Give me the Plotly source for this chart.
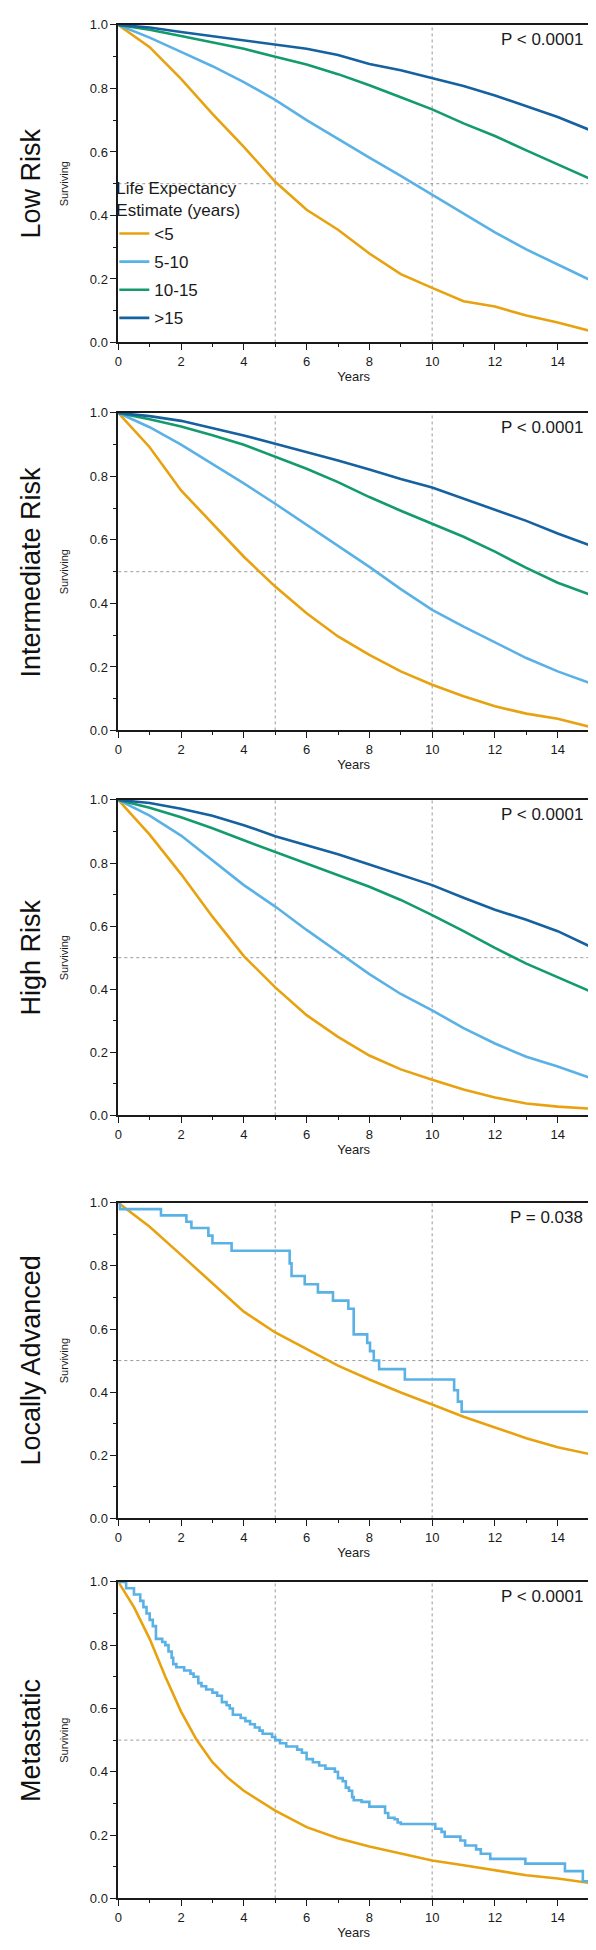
import plotly.graph_objects as go

W, H = 596, 1950

# ---------------- data ----------------
years = list(range(0, 16))
series_names = ["<5", "5-10", "10-15", ">15"]
colors = ["#E8A20F", "#5AB1E6", "#139B6C", "#16619F"]

low_lt5 = [1.0, 0.93, 0.83, 0.72, 0.616, 0.506, 0.418, 0.355, 0.28, 0.215, 0.172, 0.13, 0.113, 0.085, 0.063, 0.037]
low_5_10 = [1.0, 0.96, 0.915, 0.87, 0.82, 0.764, 0.70, 0.64, 0.582, 0.525, 0.465, 0.405, 0.347, 0.293, 0.245, 0.198]
low_10_15 = [1.0, 0.985, 0.965, 0.945, 0.925, 0.90, 0.875, 0.845, 0.81, 0.772, 0.734, 0.69, 0.65, 0.605, 0.56, 0.517]
low_gt15 = [1.0, 0.992, 0.978, 0.965, 0.952, 0.94, 0.925, 0.905, 0.877, 0.857, 0.833, 0.808, 0.778, 0.745, 0.71, 0.67]

int_lt5 = [1.0, 0.892, 0.756, 0.652, 0.547, 0.453, 0.369, 0.296, 0.238, 0.186, 0.144, 0.108, 0.076, 0.053, 0.037, 0.012]
int_5_10 = [1.0, 0.955, 0.90, 0.84, 0.778, 0.714, 0.648, 0.58, 0.515, 0.445, 0.38, 0.327, 0.277, 0.228, 0.186, 0.15]
int_10_15 = [1.0, 0.98, 0.957, 0.93, 0.9, 0.861, 0.824, 0.782, 0.735, 0.692, 0.652, 0.61, 0.563, 0.512, 0.465, 0.429]
int_gt15 = [1.0, 0.99, 0.975, 0.953, 0.929, 0.903, 0.877, 0.85, 0.822, 0.792, 0.765, 0.73, 0.693, 0.66, 0.62, 0.584]

high_lt5 = [1.0, 0.89, 0.765, 0.63, 0.505, 0.406, 0.318, 0.249, 0.19, 0.146, 0.113, 0.082, 0.057, 0.038, 0.028, 0.022]
high_5_10 = [1.0, 0.95, 0.887, 0.809, 0.73, 0.662, 0.588, 0.518, 0.448, 0.385, 0.333, 0.277, 0.228, 0.186, 0.155, 0.12]
high_10_15 = [1.0, 0.975, 0.945, 0.91, 0.872, 0.835, 0.798, 0.762, 0.725, 0.683, 0.635, 0.584, 0.531, 0.481, 0.437, 0.395]
high_gt15 = [1.0, 0.99, 0.972, 0.95, 0.92, 0.885, 0.856, 0.828, 0.795, 0.762, 0.73, 0.69, 0.652, 0.62, 0.584, 0.537]

la_lt5 = [1.0, 0.924, 0.835, 0.746, 0.655, 0.589, 0.536, 0.484, 0.44, 0.399, 0.361, 0.322, 0.288, 0.254, 0.225, 0.204]
la_step_t = [0.0, 0.05, 1.36, 2.17, 2.33, 2.87, 3.0, 3.61, 5.46, 5.52, 5.94, 6.36, 6.84, 7.33, 7.5, 7.93, 8.02, 8.14, 8.31, 9.13, 10.7, 10.82, 10.94, 15.0]
la_step_s = [1.0, 0.98, 0.96, 0.94, 0.92, 0.896, 0.872, 0.848, 0.808, 0.768, 0.742, 0.716, 0.69, 0.664, 0.583, 0.556, 0.53, 0.5, 0.473, 0.44, 0.406, 0.37, 0.338, 0.338]

met_t = [0, 0.5, 1, 1.5, 2, 2.5, 3, 3.5, 4, 5, 6, 7, 8, 9, 10, 11, 12, 13, 14, 15]
met_lt5 = [1.0, 0.92, 0.82, 0.70, 0.59, 0.50, 0.43, 0.38, 0.34, 0.277, 0.225, 0.19, 0.164, 0.143, 0.12, 0.105, 0.089, 0.073, 0.063, 0.049]
met_step_t = [0.0, 0.25, 0.5, 0.7, 0.8, 0.9, 1.0, 1.1, 1.2, 1.4, 1.5, 1.6, 1.7, 1.75, 1.85, 2.1, 2.3, 2.4, 2.55, 2.65,
              2.8, 3.0, 3.15, 3.3, 3.45, 3.55, 3.65, 3.9, 4.05, 4.2, 4.35, 4.5, 4.6, 4.9, 5.0, 5.15, 5.35, 5.7, 5.85,
              6.0, 6.2, 6.4, 6.6, 6.9, 7.0, 7.15, 7.25, 7.35, 7.45, 7.5, 7.75, 8.0, 8.5, 8.6, 8.8, 8.9, 9.0,
              10.1, 10.3, 10.4, 10.9, 11.05, 11.4, 11.55, 11.85, 12.97, 14.23, 14.8, 15.0]
met_step_s = [1.0, 0.98, 0.96, 0.94, 0.92, 0.90, 0.88, 0.86, 0.82, 0.81, 0.80, 0.78, 0.76, 0.74, 0.73, 0.72, 0.71, 0.70, 0.68, 0.67,
              0.66, 0.65, 0.64, 0.62, 0.61, 0.60, 0.58, 0.57, 0.56, 0.55, 0.54, 0.53, 0.52, 0.51, 0.50, 0.49, 0.48, 0.47, 0.46,
              0.44, 0.43, 0.42, 0.41, 0.40, 0.38, 0.37, 0.35, 0.34, 0.32, 0.31, 0.305, 0.29, 0.27, 0.255, 0.25, 0.24, 0.235,
              0.22, 0.21, 0.195, 0.183, 0.167, 0.155, 0.141, 0.125, 0.11, 0.086, 0.054, 0.054]

panel_titles = ["Low Risk", "Intermediate Risk", "High Risk", "Locally Advanced", "Metastatic"]
p_values = ["P < 0.0001", "P < 0.0001", "P < 0.0001", "P = 0.038", "P < 0.0001"]
x_ticks = [0, 2, 4, 6, 8, 10, 12, 14]
y_ticks = [0.0, 0.2, 0.4, 0.6, 0.8, 1.0]
y_ticktext = ["0.0", "0.2", "0.4", "0.6", "0.8", "1.0"]

# ---------------- layout geometry (pixels) ----------------
panel_tops = [10, 401, 791, 1197, 1579]
panel_bots = [330, 721, 1109, 1515, 1898]
x_left, x_right = 107, 581

FONT = "Liberation Sans, Arial, Helvetica, sans-serif"

fig = go.Figure()

def add_line(i, x, y, color, name, shape="linear", legend=False):
    ax = "" if i == 0 else str(i + 1)
    fig.add_trace(go.Scatter(
        x=x, y=y, mode="lines", name=name,
        line=dict(color=color, width=2.6, shape=shape),
        xaxis="x" + ax, yaxis="y" + ax,
        showlegend=legend, legendgroup=name if legend else None,
    ))

groups = [
    [low_lt5, low_5_10, low_10_15, low_gt15],
    [int_lt5, int_5_10, int_10_15, int_gt15],
    [high_lt5, high_5_10, high_10_15, high_gt15],
]
for i, grp in enumerate(groups):
    for j, vals in enumerate(grp):
        add_line(i, years, vals, colors[j], series_names[j], legend=(i == 0))

add_line(3, years, la_lt5, colors[0], "<5")
add_line(3, la_step_t, la_step_s, colors[1], "5-10", shape="hv")
add_line(4, met_t, met_lt5, colors[0], "<5")
add_line(4, met_step_t, met_step_s, colors[1], "5-10", shape="hv")

layout = dict(
    width=W, height=H,
    margin=dict(l=0, r=0, t=0, b=0),
    paper_bgcolor="white", plot_bgcolor="white",
    font=dict(family=FONT, color="#1a1a1a", size=13),
    showlegend=True,
    legend=dict(
        x=(x_left - 4) / W, y=1 - 158 / H, xanchor="left", yanchor="top",
        bgcolor="rgba(0,0,0,0)",
        font=dict(size=17, family=FONT, color="#1a1a1a"),
        title=dict(text="Life Expectancy<br>Estimate (years)", font=dict(size=17, family=FONT, color="#1a1a1a")),
        tracegroupgap=3, itemwidth=30,
    ),
)

shapes = []
annotations = []
for i in range(5):
    ax = "" if i == 0 else str(i + 1)
    dom_y = [1 - panel_bots[i] / H, 1 - panel_tops[i] / H]
    layout["xaxis" + ax] = dict(
        domain=[x_left / W, x_right / W], anchor="y" + ax, range=[0, 15],
        showline=True, linecolor="#1a1a1a", linewidth=1.6, mirror=True,
        ticks="outside", ticklen=6, tickwidth=1.4, tickcolor="#1a1a1a",
        tickvals=x_ticks, ticktext=[str(v) for v in x_ticks],
        tickfont=dict(size=13, family=FONT, color="#1a1a1a"),
        minor=dict(ticks="outside", ticklen=3, tickwidth=1.2, tickcolor="#1a1a1a", dtick=1, tick0=0, showgrid=False),
        showgrid=False, zeroline=False, fixedrange=True,
        title=dict(text="Years", font=dict(size=13, family=FONT, color="#1a1a1a"), standoff=4),
    )
    layout["yaxis" + ax] = dict(
        domain=dom_y, anchor="x" + ax, range=[0, 1],
        showline=True, linecolor="#1a1a1a", linewidth=1.6, mirror=True,
        ticks="outside", ticklen=6, tickwidth=1.4, tickcolor="#1a1a1a",
        tickvals=y_ticks, ticktext=y_ticktext,
        tickfont=dict(size=13, family=FONT, color="#1a1a1a"),
        minor=dict(ticks="outside", ticklen=3, tickwidth=1.2, tickcolor="#1a1a1a", dtick=0.1, tick0=0, showgrid=False),
        showgrid=False, zeroline=False, fixedrange=True,
    )
    for xv in (5, 10):
        shapes.append(dict(type="line", xref="x" + ax, yref="y" + ax, x0=xv, x1=xv, y0=0, y1=1,
                           line=dict(color="#9a9a9a", width=1, dash="dot"), layer="below"))
    shapes.append(dict(type="line", xref="x" + ax, yref="y" + ax, x0=0, x1=15, y0=0.5, y1=0.5,
                       line=dict(color="#9a9a9a", width=1, dash="dot"), layer="below"))
    mid = 1 - (panel_tops[i] + panel_bots[i]) / 2 / H
    annotations.append(dict(text=panel_titles[i], xref="paper", yref="paper", x=19 / W, y=mid,
                            textangle=-90, showarrow=False, xanchor="center", yanchor="middle",
                            font=dict(size=27, family=FONT, color="#111")))
    annotations.append(dict(text="Surviving", xref="paper", yref="paper", x=52 / W, y=mid,
                            textangle=-90, showarrow=False, xanchor="center", yanchor="middle",
                            font=dict(size=11, family=FONT, color="#1a1a1a")))
    annotations.append(dict(text=p_values[i], xref="paper", yref="paper", x=(x_right - 4) / W,
                            y=1 - (panel_tops[i] + 15) / H, showarrow=False, xanchor="right", yanchor="middle",
                            font=dict(size=17, family=FONT, color="#1a1a1a")))

layout["shapes"] = shapes
layout["annotations"] = annotations
fig.update_layout(**layout)
fig.write_html("out.html")
